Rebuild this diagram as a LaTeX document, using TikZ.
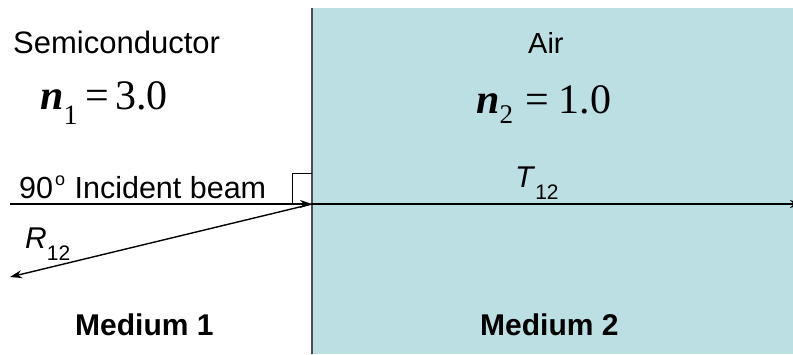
\documentclass[tikz,border=0pt]{standalone}
\usepackage{fontspec}
\setmainfont{Liberation Sans}
\newfontfamily\tnr{Liberation Serif}
\usetikzlibrary{arrows.meta}
\definecolor{airfill}{HTML}{BBDFE3}
\newcommand{\sz}[1]{\fontsize{#1}{#1}\selectfont}
\begin{document}
\begin{tikzpicture}[x=1pt,y=-1pt,
  beam/.style={line width=1.4pt,-{Stealth[length=12pt,width=8pt]}},
  lbl/.style={inner sep=0pt,anchor=base west,font=\sz{30}},
  med/.style={inner sep=0pt,anchor=base west,font=\sz{30}\bfseries},
  idx/.style={inner sep=0pt,anchor=base west,font=\tnr\sz{42}}]
\useasboundingbox (0,0) rectangle (793,354);
\fill[airfill] (312,8) rectangle (793,354);
\draw[gray!60!black,line width=1.5pt] (312,8) -- (312,354);
\coordinate (src) at (10,204);
\coordinate (hit) at (312,204);
\coordinate (tx) at (802,204);
\coordinate (rx) at (10,277);
\draw[line width=1pt] (292,204) -- (292,173) -- (312,173);
\draw[beam] (src) -- (hit);
\draw[beam] (hit) -- (tx);
\draw[beam] (hit) -- (rx);
\node[lbl,font=\sz{31}] (semi) at (13,53) {Semiconductor};
\node[idx] (n1) at (40,109) {{\bfseries\itshape n}\raisebox{-15pt}{\sz{28}1}\hspace{8pt}=\hspace{6pt}3.0};
\node[lbl,font=\sz{30.5}] (inc) at (19,198) {90\hspace{2pt}\raisebox{0.4em}{\sz{18}o}\hspace{1pt} Incident beam};
\node[lbl] (r12) at (25,248) {\textit{R}\raisebox{-0.4em}{\sz{21}12}};
\node[lbl,font=\sz{29}] (air) at (528,53) {Air};
\node[idx] (n2) at (476,113) {{\bfseries\itshape n}\raisebox{-10pt}{\sz{27}2}\hspace{12pt}=\hspace{10pt}1.0};
\node[lbl] (t12) at (515,187) {\textit{T}\raisebox{-0.4em}{\sz{21}12}};
\node[med] (m1) at (75,335) {Medium 1};
\node[med] (m2) at (480,335) {Medium 2};
\end{tikzpicture}
\end{document}
